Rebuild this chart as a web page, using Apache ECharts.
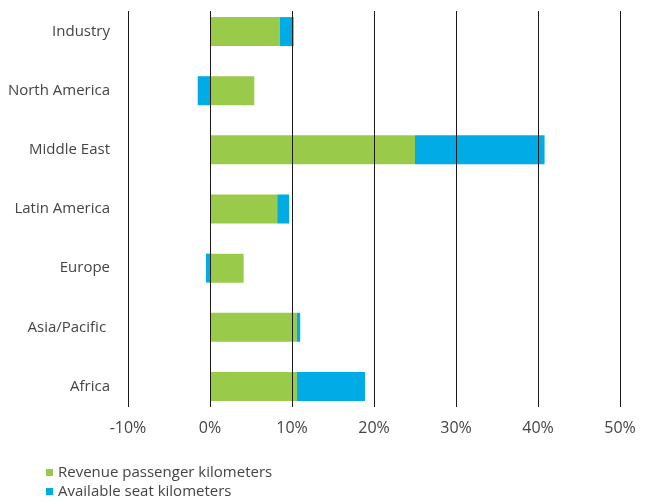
<!DOCTYPE html>
<html>
<head>
<meta charset="utf-8">
<script src="https://cdn.jsdelivr.net/npm/echarts@6/dist/echarts.min.js"></script>
<style>html,body{margin:0;padding:0;background:#fff}#c{width:649px;height:502px}</style>
</head>
<body>
<div id="c"></div>
<script>
const categories = ["Industry", "North America", "Middle East", "Latin America", "Europe", "Asia/Pacific ", "Africa"];
const rpk = [8.5, 5.4, 25.0, 8.2, 4.1, 10.6, 10.6];
const ask = [1.7, -1.5, 15.8, 1.45, -0.5, 0.4, 8.3];
const xTicks = [-10, 0, 10, 20, 30, 40, 50];
const seriesNames = ['Revenue passenger kilometers', 'Available seat kilometers'];

const chart = echarts.init(document.getElementById('c'));
const font = "'Open Sans', 'Noto Sans', sans-serif";
const legendBase = {
  orient: 'vertical',
  left: 46,
  padding: 0,
  icon: 'rect',
  itemWidth: 7,
  itemHeight: 7,
  textStyle: { fontFamily: font, fontSize: 15, color: '#444' }
};
chart.setOption({
  animation: false,
  backgroundColor: '#fff',
  textStyle: { fontFamily: font },
  legend: [
    Object.assign({}, legendBase, { top: 465, data: [seriesNames[0]] }),
    Object.assign({}, legendBase, { top: 484, data: [seriesNames[1]] })
  ],
  grid: [
    { left: 128, right: 29, top: 2, height: 414 },
    { left: 128, right: 29, top: 11, bottom: 95 }
  ],
  xAxis: [
    { gridIndex: 0, type: 'value', min: xTicks[0], max: xTicks[xTicks.length - 1], interval: 10, show: false },
    {
      gridIndex: 1, type: 'value', min: xTicks[0], max: xTicks[xTicks.length - 1], interval: 10, z: 5,
      axisLine: { show: false }, axisTick: { show: false },
      splitLine: { show: true, lineStyle: { color: '#1a1a1a', width: 1 } },
      axisLabel: { formatter: '{value}%', fontFamily: font, fontSize: 16, color: '#444', margin: 13 }
    }
  ],
  yAxis: [
    {
      gridIndex: 0, type: 'category', data: categories, inverse: true,
      axisLine: { show: false }, axisTick: { show: false }, splitLine: { show: false },
      axisLabel: { fontFamily: font, fontSize: 15, color: '#444', margin: 18, padding: [3, 0, 0, 0] }
    },
    { gridIndex: 1, type: 'value', show: false, splitLine: { show: false } }
  ],
  series: [
    {
      name: seriesNames[0], type: 'bar', stack: 'a', xAxisIndex: 0, yAxisIndex: 0,
      data: rpk, barWidth: 29, itemStyle: { color: '#9aca4a' }
    },
    {
      name: seriesNames[1], type: 'bar', stack: 'a', xAxisIndex: 0, yAxisIndex: 0,
      data: ask, barWidth: 29, itemStyle: { color: '#00abe6' }
    }
  ]
});
</script>
</body>
</html>
